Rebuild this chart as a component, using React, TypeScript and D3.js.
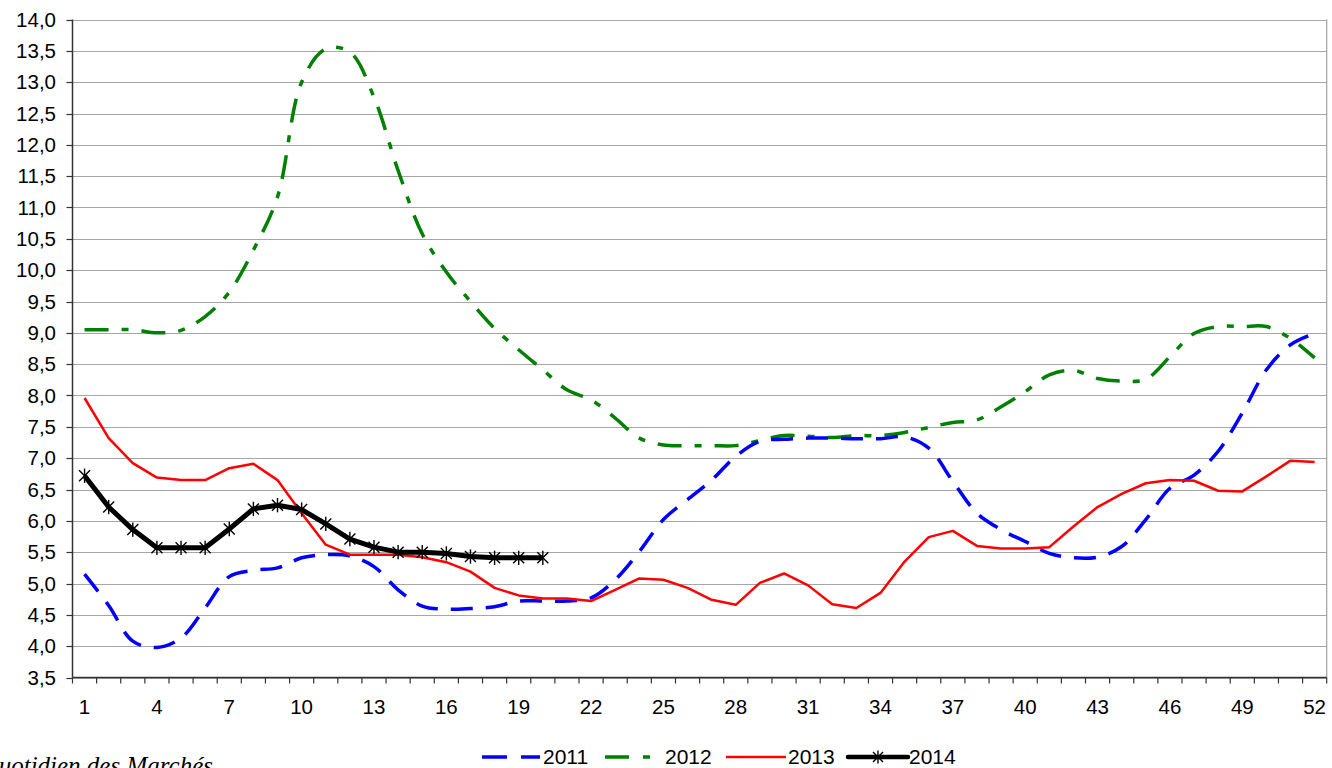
import React from "react";
import * as d3 from "d3";

const weeks: number[] = Array.from({ length: 52 }, (_, i) => i + 1);
const xTickLabels: number[] = [1, 4, 7, 10, 13, 16, 19, 22, 25, 28, 31, 34, 37, 40, 43, 46, 49, 52];
const yTicks: number[] = [3.5, 4, 4.5, 5, 5.5, 6, 6.5, 7, 7.5, 8, 8.5, 9, 9.5, 10, 10.5, 11, 11.5, 12, 12.5, 13, 13.5, 14];

const s2011: number[] = [5.15, 4.65, 4.08, 3.98, 4.13, 4.61, 5.11, 5.21, 5.25, 5.41, 5.46, 5.44, 5.27, 4.9, 4.64, 4.59, 4.6, 4.63, 4.72, 4.72, 4.72, 4.77, 5.06, 5.51, 6.02, 6.34, 6.65, 7.03, 7.27, 7.3, 7.32, 7.32, 7.31, 7.31, 7.34, 7.16, 6.63, 6.12, 5.86, 5.67, 5.48, 5.41, 5.42, 5.59, 6.02, 6.52, 6.73, 7.11, 7.72, 8.41, 8.81, 8.99];
const s2012: number[] = [9.05, 9.05, 9.05, 9.0, 9.04, 9.26, 9.65, 10.32, 11.17, 13.0, 13.53, 13.48, 12.76, 11.59, 10.58, 9.97, 9.5, 9.07, 8.73, 8.41, 8.09, 7.93, 7.64, 7.32, 7.21, 7.2, 7.2, 7.2, 7.28, 7.36, 7.35, 7.33, 7.36, 7.36, 7.41, 7.49, 7.57, 7.61, 7.82, 8.06, 8.33, 8.4, 8.27, 8.23, 8.26, 8.62, 8.99, 9.1, 9.1, 9.1, 8.91, 8.6];
const s2013: number[] = [7.96, 7.32, 6.92, 6.69, 6.65, 6.65, 6.84, 6.91, 6.65, 6.12, 5.62, 5.46, 5.46, 5.46, 5.42, 5.34, 5.19, 4.93, 4.81, 4.76, 4.76, 4.72, 4.9, 5.08, 5.06, 4.93, 4.74, 4.66, 5.01, 5.16, 4.97, 4.67, 4.61, 4.85, 5.35, 5.74, 5.84, 5.6, 5.56, 5.56, 5.58, 5.91, 6.22, 6.43, 6.6, 6.65, 6.64, 6.48, 6.47, 6.71, 6.96, 6.94];
const s2014: number[] = [6.72, 6.22, 5.86, 5.57, 5.57, 5.57, 5.87, 6.19, 6.25, 6.18, 5.95, 5.71, 5.58, 5.5, 5.5, 5.48, 5.43, 5.41, 5.41, 5.41];

const seriesNames: string[] = ["2011", "2012", "2013", "2014"];
const sourceText = "Quotidien des Marchés";

const W = 1332;
const H = 768;
const FONT = "'Liberation Sans', Arial, sans-serif";

function Asterisk({ x, y, s }: { x: number; y: number; s: number }) {
  return (
    <g stroke="#000" strokeWidth={1.4}>
      <line x1={x - s} y1={y - s} x2={x + s} y2={y + s} />
      <line x1={x - s} y1={y + s} x2={x + s} y2={y - s} />
      <line x1={x} y1={y - s * 1.3} x2={x} y2={y + s * 1.3} />
    </g>
  );
}

export default function App() {
  const left = 72.5;
  const right = 1326.7;
  const top = 19.5;
  const bottom = 677.5;

  const x = d3.scaleBand<number>().domain(weeks).range([left, right]).padding(0);
  const cx = (w: number) => (x(w) as number) + x.bandwidth() / 2;
  const y = d3.scaleLinear().domain([3.5, 14]).range([bottom, top]);

  const smooth = d3
    .line<number>()
    .x((_, i) => cx(weeks[i]))
    .y((d) => y(d))
    .curve(d3.curveCatmullRom.alpha(0.5));
  const straight = d3
    .line<number>()
    .x((_, i) => cx(weeks[i]))
    .y((d) => y(d));

  const legendY = 757;
  const legendItems = [
    { name: seriesNames[0], x1: 482, x2: 540, tx: 543, color: "#0000ff", dash: "25 14", w: 3.5 },
    { name: seriesNames[1], x1: 605, x2: 664, tx: 665, color: "#008000", dash: "24 14 7 14", w: 3.5 },
    { name: seriesNames[2], x1: 726, x2: 786, tx: 788, color: "#ff0000", dash: "", w: 2.5 },
    { name: seriesNames[3], x1: 848, x2: 908, tx: 909, color: "#000000", dash: "", w: 4.5 },
  ];

  return (
    <svg
      width={W}
      height={H}
      style={{ position: "absolute", left: 0, top: 0, background: "#fff", overflow: "hidden" }}
      fontFamily={FONT}
    >
      <rect x={0} y={0} width={W} height={H} fill="#fff" />
      {/* gridlines */}
      {yTicks.map((t) => (
        <line key={"g" + t} x1={left} x2={right} y1={Math.round(y(t)) + 0.5} y2={Math.round(y(t)) + 0.5} stroke="#a6a6a6" strokeWidth={1} />
      ))}
      {/* right border */}
      <line x1={right} x2={right} y1={top} y2={bottom} stroke="#a0a0a0" strokeWidth={1.2} />
      {/* y axis */}
      <line x1={left} x2={left} y1={top} y2={bottom} stroke="#333" strokeWidth={1.5} />
      {yTicks.map((t) => (
        <g key={"yt" + t}>
          <line x1={left - 6} x2={left} y1={Math.round(y(t)) + 0.5} y2={Math.round(y(t)) + 0.5} stroke="#333" strokeWidth={1.2} />
          <text x={56} y={y(t)} dy="0.35em" textAnchor="end" fontSize={20.5} fill="#000">
            {d3.format(".1f")(t).replace(".", ",")}
          </text>
        </g>
      ))}
      {/* x axis */}
      <line x1={left} x2={right} y1={bottom} y2={bottom} stroke="#333" strokeWidth={1.5} />
      {[...weeks.map((w) => x(w) as number), right].map((px, i) => (
        <line key={"xt" + i} x1={px} x2={px} y1={bottom} y2={bottom + 6} stroke="#333" strokeWidth={1.2} />
      ))}
      {xTickLabels.map((w) => (
        <text key={"xl" + w} x={cx(w)} y={714} textAnchor="middle" fontSize={20.5} fill="#000">
          {w}
        </text>
      ))}

      {/* series */}
      <path d={smooth(s2012) || ""} fill="none" stroke="#008000" strokeWidth={3.5} strokeDasharray="24 13 7 13" />
      <path d={smooth(s2011) || ""} fill="none" stroke="#0000ff" strokeWidth={3.5} strokeDasharray="22 13" />
      <path d={straight(s2013) || ""} fill="none" stroke="#ff0000" strokeWidth={2.5} strokeLinejoin="round" />
      <path d={straight(s2014) || ""} fill="none" stroke="#000" strokeWidth={5} strokeLinejoin="round" />
      {s2014.map((v, i) => (
        <Asterisk key={"m" + i} x={cx(weeks[i])} y={y(v)} s={5.5} />
      ))}

      {/* legend */}
      {legendItems.map((it) => (
        <g key={"lg" + it.name}>
          <line x1={it.x1} x2={it.x2} y1={legendY} y2={legendY} stroke={it.color} strokeWidth={it.w} strokeDasharray={it.dash || undefined} strokeLinecap={it.name === "2014" ? "round" : "butt"} />
          {it.name === "2014" && <Asterisk x={(it.x1 + it.x2) / 2} y={legendY} s={5} />}
          <text x={it.tx} y={legendY} dy="0.35em" fontSize={21} fill="#000">
            {it.name}
          </text>
        </g>
      ))}

      {/* source note (cut off at page edge, as in the reference) */}
      <text x={213} y={774} textAnchor="end" fontSize={25} fontStyle="italic" fontFamily="'Liberation Serif', 'Times New Roman', serif" fill="#000">
        {sourceText}
      </text>
    </svg>
  );
}
